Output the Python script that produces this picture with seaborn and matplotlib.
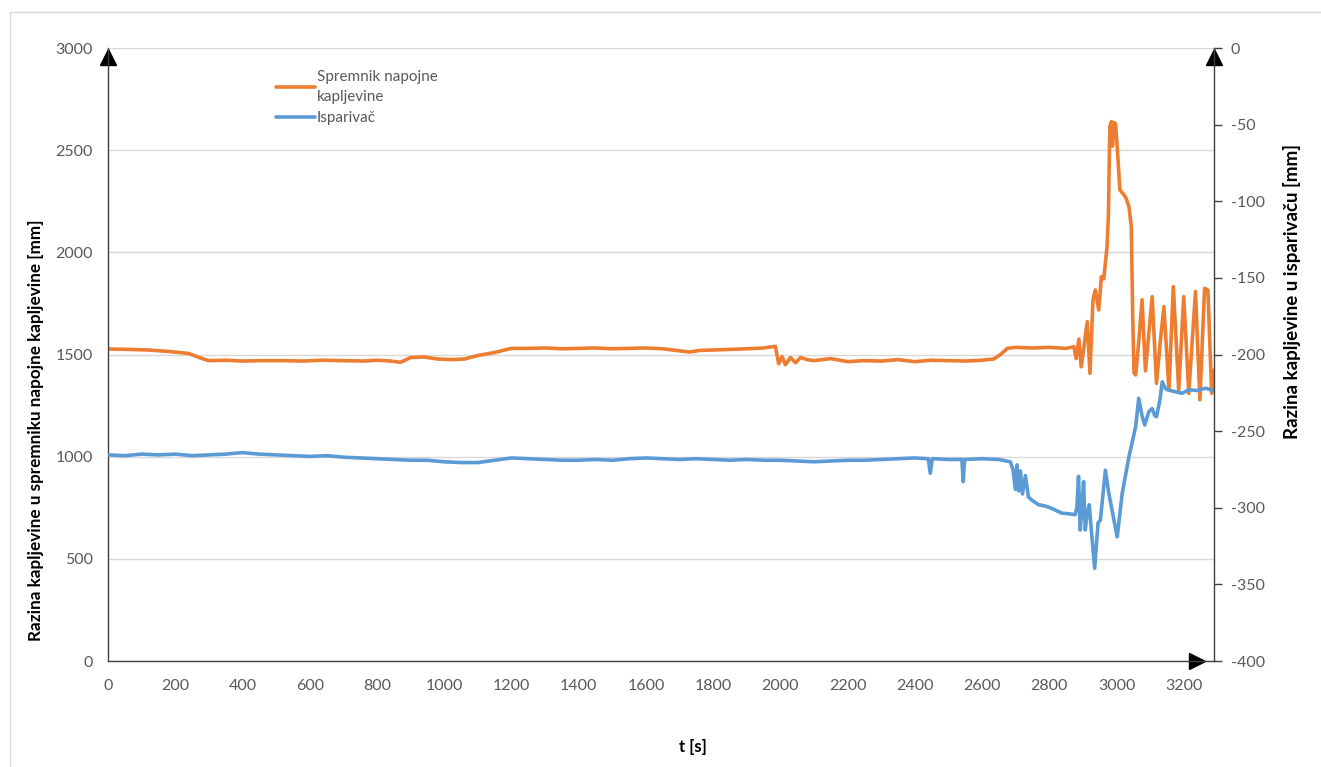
import numpy as np
import pandas as pd
import matplotlib
matplotlib.use("Agg")
import matplotlib.pyplot as plt
import matplotlib.patches as patches
import seaborn as sns

# Razina u spremniku napojne kapljevine (lijeva os) [mm]
t_spremnik = [0, 60, 120, 180, 240, 280, 300, 350, 400, 460, 520, 580, 640, 700, 760, 800, 840, 870,
              900, 940, 980, 1020, 1060, 1100, 1150, 1200, 1250, 1300, 1350, 1400, 1450, 1500, 1550,
              1600, 1650, 1700, 1730, 1760, 1800, 1850, 1900, 1950, 1985, 1995, 2005, 2015, 2030, 2045,
              2060, 2080, 2100, 2150, 2200, 2250, 2300, 2350, 2400, 2450, 2500, 2550, 2600, 2635, 2655,
              2675, 2700, 2750, 2800, 2850, 2873, 2880, 2888, 2895, 2905, 2913, 2921, 2930, 2937, 2947,
              2955, 2962, 2972, 2976, 2980, 2985, 2988, 2992, 2997, 3002, 3010, 3018, 3027, 3037, 3044,
              3048, 3052, 3057, 3066, 3076, 3086, 3096, 3106, 3119, 3130, 3141, 3156, 3169, 3185, 3200,
              3215, 3235, 3248, 3262, 3272, 3283, 3290]
h_spremnik = [1527, 1525, 1522, 1515, 1505, 1480, 1470, 1472, 1468, 1470, 1470, 1468, 1472, 1470, 1468,
              1472, 1468, 1462, 1485, 1488, 1478, 1475, 1478, 1495, 1510, 1530, 1530, 1532, 1528, 1530,
              1532, 1528, 1530, 1532, 1528, 1518, 1512, 1520, 1522, 1525, 1528, 1532, 1540, 1455, 1490,
              1450, 1485, 1460, 1485, 1475, 1470, 1480, 1465, 1470, 1468, 1475, 1465, 1472, 1470, 1468,
              1472, 1478, 1500, 1530, 1535, 1532, 1535, 1530, 1538, 1480, 1575, 1440, 1560, 1661, 1408,
              1768, 1816, 1718, 1881, 1870, 2030, 2190, 2615, 2640, 2520, 2635, 2630, 2517, 2305, 2290,
              2270, 2224, 2126, 1700, 1410, 1400, 1560, 1768, 1420, 1600, 1783, 1359, 1560, 1734, 1326,
              1832, 1326, 1783, 1310, 1808, 1278, 1824, 1815, 1310, 1424]

# Razina u isparivacu (desna os) [mm]
t_isparivac = [0, 50, 100, 150, 200, 250, 300, 350, 400, 450, 500, 550, 600, 650, 700, 750, 800, 850,
               900, 950, 1000, 1050, 1100, 1150, 1200, 1250, 1300, 1350, 1400, 1450, 1500, 1550, 1600,
               1650, 1700, 1750, 1800, 1850, 1900, 1950, 2000, 2050, 2100, 2150, 2200, 2250, 2300, 2350,
               2400, 2440, 2446, 2452, 2500, 2540, 2544, 2548, 2600, 2650, 2684, 2692, 2699, 2704, 2709,
               2714, 2720, 2729, 2738, 2748, 2768, 2790, 2808, 2837, 2860, 2877, 2882, 2887, 2892, 2897,
               2902, 2907, 2912, 2919, 2925, 2935, 2945, 2952, 2967, 2977, 3002, 3017, 3037, 3057, 3066,
               3076, 3084, 3096, 3106, 3114, 3119, 3129, 3136, 3145, 3151, 3170, 3195, 3215, 3240, 3265,
               3280, 3290]
h_isparivac = [-265.5, -266, -265, -265.5, -265, -266, -265.5, -265, -264, -265, -265.5, -266, -266.5,
               -266, -267, -267.5, -268, -268.5, -269, -269, -270, -270.5, -270.5, -269, -267.5, -268,
               -268.5, -269, -269, -268.5, -269, -268, -267.5, -268, -268.5, -268, -268.5, -269, -268.5,
               -269, -269, -269.5, -270, -269.5, -269, -269, -268.5, -268, -267.5, -268, -277.5, -268,
               -268.5, -268.5, -283, -268.5, -268, -268.5, -270, -275, -288, -272, -289, -276, -291, -279,
               -293, -295, -298, -299, -300.5, -303.5, -304, -304.5, -300, -279.5, -314.5, -300, -283,
               -314.5, -305, -298, -314.5, -339.5, -310, -308, -275.5, -290.5, -319, -290.5, -266.7, -247,
               -228.6, -240, -246, -237.3, -235.3, -240, -240.6, -229.7, -217.8, -222, -223, -224, -225.3,
               -223, -223.5, -222, -223, -224]

x_ticks = list(range(0, 3201, 200))
left_ticks = [0, 500, 1000, 1500, 2000, 2500, 3000]
right_ticks = [-400, -350, -300, -250, -200, -150, -100, -50, 0]

df_spr = pd.DataFrame({'t': t_spremnik, 'h': h_spremnik})
df_isp = pd.DataFrame({'t': t_isparivac, 'h': h_isparivac})

sns.set_theme(style='white')
plt.rcParams['font.family'] = ['Lato', 'DejaVu Sans']
plt.rcParams['axes.unicode_minus'] = False

orange = '#ED7D31'
blue = '#5B9BD5'
grey_txt = '#595959'
axis_col = '#404040'

fig = plt.figure(figsize=(13.21, 7.67), dpi=100)
ax = fig.add_axes([0.0818, 0.1382, 0.8372, 0.7992])
ax2 = ax.twinx()

# outer chart border
fig.patches.append(patches.Rectangle((0.0075, -0.05), 1.0, 1.035, transform=fig.transFigure,
                                     fill=False, edgecolor='#d9d9d9', linewidth=1.0, zorder=0))

sns.lineplot(data=df_spr, x='t', y='h', ax=ax, color=orange, linewidth=2.6, estimator=None, sort=False,
             label='Spremnik napojne\nkapljevine', legend=False)
sns.lineplot(data=df_isp, x='t', y='h', ax=ax2, color=blue, linewidth=2.6, estimator=None, sort=False,
             label='Isparivač', legend=False)

ax.set_xlim(0, 3290)
ax.set_ylim(0, 3000)
ax2.set_ylim(-400, 0)
ax.set_xticks(x_ticks)
ax.set_yticks(left_ticks)
ax2.set_yticks(right_ticks)

ax.grid(axis='y', color='#d9d9d9', linewidth=1.0)
ax.grid(axis='x', visible=False)
ax2.grid(False)

for a in (ax, ax2):
    a.spines['top'].set_visible(False)
    for s in a.spines.values():
        s.set_color(axis_col)
        s.set_linewidth(1.0)
ax.spines['right'].set_visible(False)
ax2.spines['left'].set_visible(False)
ax2.spines['bottom'].set_visible(False)

ax.tick_params(axis='both', length=0, labelsize=11.5, labelcolor=grey_txt)
ax.tick_params(axis='x', pad=13)
ax.tick_params(axis='y', pad=11)
ax2.tick_params(axis='y', right=True, direction='out', length=6, width=1, color=axis_col,
                labelsize=11.5, labelcolor=grey_txt, pad=6)

ax.set_xlabel('t [s]', fontsize=12, fontweight='bold', color='black')
ax.xaxis.set_label_coords(0.529, -0.128)
ax.set_ylabel('Razina kapljevine u spremniku napojne kapljevine [mm]', fontsize=12.3,
              fontweight='bold', color='black')
ax.yaxis.set_label_coords(-0.058, 0.377)
ax2.set_ylabel('Razina kapljevine u isparivaču [mm]', fontsize=13.5, fontweight='bold',
               color='black')
ax2.yaxis.set_label_coords(1.062, 0.602)

# arrow heads at axis ends
ax.plot([0], [0.985], marker='^', markersize=12, color='black', transform=ax.transAxes, clip_on=False)
ax.plot([1], [0.985], marker='^', markersize=12, color='black', transform=ax.transAxes, clip_on=False)
ax.plot([0.985], [0], marker='>', markersize=12, color='black', transform=ax.transAxes, clip_on=False)

h1, l1 = ax.get_legend_handles_labels()
h2, l2 = ax2.get_legend_handles_labels()
leg = ax.legend(h1 + h2, l1 + l2, loc='upper left', bbox_to_anchor=(0.139, 0.987), frameon=False,
                fontsize=11, handlelength=2.6, handletextpad=0.1, labelspacing=0.5)
for txt in leg.get_texts():
    txt.set_color(grey_txt)
    txt.set_linespacing(1.55)

fig.savefig('out.png', dpi=100)
